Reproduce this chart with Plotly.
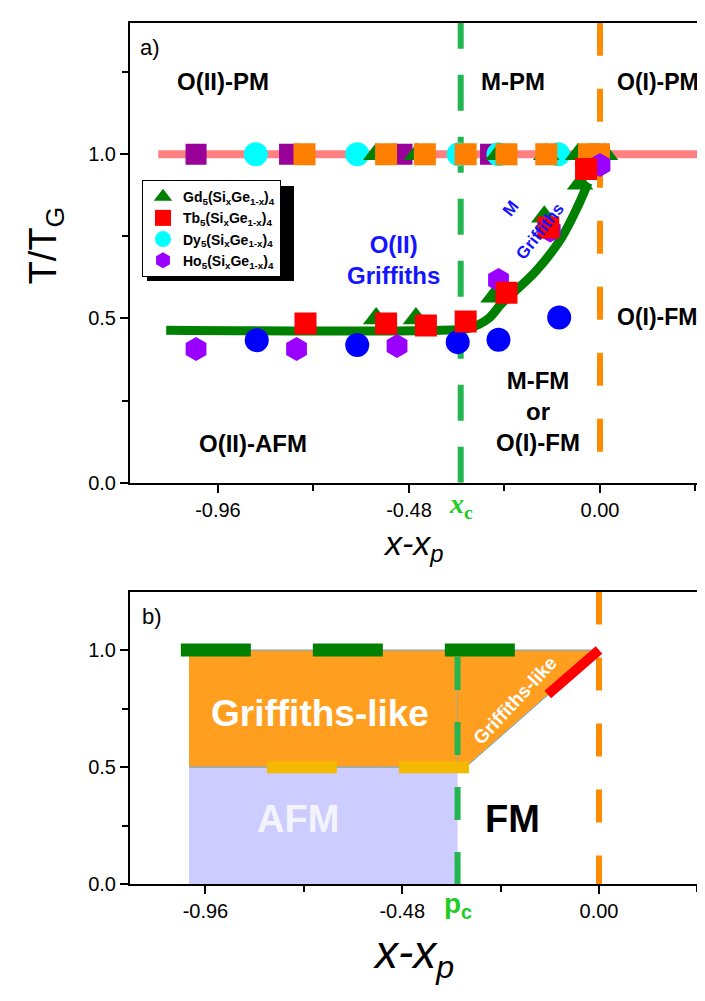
import plotly.graph_objects as go

# ---------------- panel a data ----------------
pm_line_x = [-1.11, 0.30]
pm_line_y = [1.0, 1.0]

curve_x = [-1.09, -0.40, -0.33, -0.28, -0.2475, -0.1625, -0.0975, -0.055, -0.03]
curve_y = [0.464, 0.464, 0.47, 0.50, 0.545, 0.642, 0.744, 0.843, 0.913]

gd_x = [-0.5625, -0.46, -0.255, -0.135, -0.055, 0.0125, -0.5625, -0.4625, -0.2675, -0.14, -0.05]
gd_y = [1.0, 1.0, 1.0, 1.0, 1.0, 1.0, 0.50, 0.50, 0.566, 0.81, 0.91]
tb_x = [-0.74, -0.5375, -0.4375, -0.3375, -0.235, -0.13, -0.035]
tb_y = [0.485, 0.485, 0.479, 0.491, 0.578, 0.777, 0.955]
dy_x = [-0.865, -0.61, -0.355, -0.255, -0.105]
dy_y = [1.0, 1.0, 1.0, 1.0, 1.0]
ho_x = [-1.015, -0.7625, -0.51, -0.255, -0.125, 0.0]
ho_y = [0.407, 0.407, 0.416, 0.617, 0.768, 0.967]
blue_x = [-0.8625, -0.61, -0.3575, -0.255, -0.1025]
blue_y = [0.434, 0.419, 0.428, 0.435, 0.503]
purple_sq_x = [-1.015, -0.78, -0.4975, -0.275]
purple_sq_y = [1.0, 1.0, 1.0, 1.0]
orange_sq_x = [-0.7425, -0.5375, -0.44, -0.3375, -0.235, -0.135, -0.0275, -0.0025]
orange_sq_y = [1.0, 1.0, 1.0, 1.0, 1.0, 1.0, 1.0, 1.0]

x_c = -0.35
x_p0 = 0.0

# ---------------- panel b data ----------------
p_c = -0.345
afm_x = [-1.0, p_c, p_c, -1.0]
afm_y = [0.0, 0.0, 0.5, 0.5]
grif_x = [-1.0, p_c, p_c, -1.0]
grif_y = [0.5, 0.5, 1.0, 1.0]
grif_tri_x = [p_c, -0.325, 0.0, p_c]
grif_tri_y = [0.5, 0.5, 1.0, 1.0]
green_dash_x = [-1.02, -0.20]
green_dash_y = [1.0, 1.0]
yellow_dash_x = [-0.81, -0.30]
yellow_dash_y = [0.5, 0.5]
red_x = [-0.125, 0.0]
red_y = [0.81, 1.0]

# ticks
x_tickvals = [-0.96, -0.48, 0.0]
x_ticktext = ["-0.96", "-0.48", "0.00"]
x_minor = [-0.72, -0.24, 0.24]
ya_tickvals = [0.0, 0.5, 1.0]
ya_ticktext = ["0.0", "0.5", "1.0"]
ya_minor = [0.25, 0.75, 1.25]
yb_minor = [0.25, 0.75]

FONT = "Liberation Sans, Arial, sans-serif"
W, H = 705, 1001

fig = go.Figure()

# ---- panel a ----
fig.add_trace(go.Scatter(x=pm_line_x, y=pm_line_y, mode="lines",
                         line=dict(color="#FF8080", width=8), showlegend=False,
                         xaxis="x", yaxis="y"))
fig.add_trace(go.Scatter(x=[x_c, x_c], y=[0, 1.4], mode="lines",
                         line=dict(color="#22B550", width=6, dash="36px,26px"),
                         showlegend=False, xaxis="x", yaxis="y"))
fig.add_trace(go.Scatter(x=[x_p0, x_p0], y=[1.4, 0], mode="lines",
                         line=dict(color="#FF8C00", width=6, dash="33px,33px"),
                         showlegend=False, xaxis="x", yaxis="y"))
fig.add_trace(go.Scatter(x=curve_x, y=curve_y, mode="lines",
                         line=dict(color="#008000", width=9, shape="spline"),
                         showlegend=False, xaxis="x", yaxis="y"))
fig.add_trace(go.Scatter(x=purple_sq_x, y=purple_sq_y, mode="markers",
                         marker=dict(symbol="square", size=21, color="#990099"),
                         showlegend=False, xaxis="x", yaxis="y"))
fig.add_trace(go.Scatter(x=dy_x, y=dy_y, mode="markers", name="Dy<sub>5</sub>(Si<sub>x</sub>Ge<sub>1-x</sub>)<sub>4</sub>",
                         marker=dict(symbol="circle", size=24, color="#00FFFF"),
                         legendrank=3, xaxis="x", yaxis="y"))
fig.add_trace(go.Scatter(x=gd_x, y=gd_y, mode="markers", name="Gd<sub>5</sub>(Si<sub>x</sub>Ge<sub>1-x</sub>)<sub>4</sub>",
                         marker=dict(symbol="triangle-up", size=23, color="#008000"),
                         legendrank=1, xaxis="x", yaxis="y"))
fig.add_trace(go.Scatter(x=orange_sq_x, y=orange_sq_y, mode="markers",
                         marker=dict(symbol="square", size=22, color="#FF8000"),
                         showlegend=False, xaxis="x", yaxis="y"))
fig.add_trace(go.Scatter(x=blue_x, y=blue_y, mode="markers",
                         marker=dict(symbol="circle", size=24, color="#0000FF"),
                         showlegend=False, xaxis="x", yaxis="y"))
fig.add_trace(go.Scatter(x=ho_x, y=ho_y, mode="markers", name="Ho<sub>5</sub>(Si<sub>x</sub>Ge<sub>1-x</sub>)<sub>4</sub>",
                         marker=dict(symbol="hexagon", size=24, color="#9900FF"),
                         legendrank=4, xaxis="x", yaxis="y"))
fig.add_trace(go.Scatter(x=tb_x, y=tb_y, mode="markers", name="Tb<sub>5</sub>(Si<sub>x</sub>Ge<sub>1-x</sub>)<sub>4</sub>",
                         marker=dict(symbol="square", size=22, color="#FF0000"),
                         legendrank=2, xaxis="x", yaxis="y"))

# ---- panel b ----
fig.add_trace(go.Scatter(x=afm_x, y=afm_y, mode="lines", fill="toself", fillcolor="#CCCCFF",
                         line=dict(width=0, color="#CCCCFF"), showlegend=False,
                         xaxis="x2", yaxis="y2"))
fig.add_trace(go.Scatter(x=grif_x, y=grif_y, mode="lines", fill="toself", fillcolor="#FF9E1F",
                         line=dict(width=1, color="#5DA9D6"), showlegend=False,
                         xaxis="x2", yaxis="y2"))
fig.add_trace(go.Scatter(x=grif_tri_x, y=grif_tri_y, mode="lines", fill="toself", fillcolor="#FF9E1F",
                         line=dict(width=1, color="#5DA9D6"), showlegend=False,
                         xaxis="x2", yaxis="y2"))
fig.add_trace(go.Scatter(x=[p_c, p_c], y=[0.97, 0], mode="lines",
                         line=dict(color="#22B550", width=6, dash="33px,32px"),
                         showlegend=False, xaxis="x2", yaxis="y2"))
fig.add_trace(go.Scatter(x=[x_p0, x_p0], y=[1.25, 0], mode="lines",
                         line=dict(color="#FF8C00", width=6, dash="33px,33px"),
                         showlegend=False, xaxis="x2", yaxis="y2"))
fig.add_trace(go.Scatter(x=green_dash_x, y=green_dash_y, mode="lines",
                         line=dict(color="#008000", width=13, dash="70px,62px"),
                         showlegend=False, xaxis="x2", yaxis="y2"))
fig.add_trace(go.Scatter(x=yellow_dash_x, y=yellow_dash_y, mode="lines",
                         line=dict(color="#F5B800", width=12, dash="70px,62px"),
                         showlegend=False, xaxis="x2", yaxis="y2"))
fig.add_trace(go.Scatter(x=red_x, y=red_y, mode="lines",
                         line=dict(color="#FF0000", width=10),
                         showlegend=False, xaxis="x2", yaxis="y2"))

axis_common = dict(showline=True, linecolor="black", linewidth=2, ticks="outside",
                   ticklen=8, tickwidth=2, tickcolor="black", showgrid=False, zeroline=False,
                   tickfont=dict(family=FONT, size=20, color="black"))

fig.update_layout(
    width=W, height=H, margin=dict(l=0, r=0, t=0, b=0),
    paper_bgcolor="white", plot_bgcolor="white",
    font=dict(family=FONT, color="black"),
    xaxis=dict(domain=[122 / W, 1.0], range=[-1.181, 0.284], anchor="y", mirror=True,
               tickmode="array", tickvals=x_tickvals, ticktext=x_ticktext,
               minor=dict(tickmode="array", tickvals=x_minor, ticks="outside", ticklen=6,
                          tickwidth=2, tickcolor="black"), **axis_common),
    yaxis=dict(domain=[1 - 480 / H, 1 - 15 / H], range=[0, 1.4], anchor="x",
               tickmode="array", tickvals=ya_tickvals, ticktext=ya_ticktext,
               minor=dict(tickmode="array", tickvals=ya_minor, ticks="outside", ticklen=6,
                          tickwidth=2, tickcolor="black"), **axis_common),
    xaxis2=dict(domain=[122 / W, 1.0], range=[-1.144, 0.278], anchor="y2", mirror=True,
                tickmode="array", tickvals=x_tickvals, ticktext=x_ticktext,
                minor=dict(tickmode="array", tickvals=x_minor, ticks="outside", ticklen=6,
                           tickwidth=2, tickcolor="black"), **axis_common),
    yaxis2=dict(domain=[1 - 886 / H, 1 - 590 / H], range=[0, 1.25], anchor="x2",
                tickmode="array", tickvals=ya_tickvals, ticktext=ya_ticktext,
                minor=dict(tickmode="array", tickvals=yb_minor, ticks="outside", ticklen=6,
                           tickwidth=2, tickcolor="black"), **axis_common),
    legend=dict(x=134 / W, y=1 - 174 / H, xanchor="left", yanchor="top",
                bgcolor="white", bordercolor="black", borderwidth=1,
                font=dict(family=FONT, size=14, color="black", weight="bold"),
                itemsizing="trace", tracegroupgap=0),
    shapes=[dict(type="rect", xref="paper", yref="paper",
                 x0=139 / W, x1=286 / W, y0=1 - 276 / H, y1=1 - 180 / H,
                 fillcolor="black", line=dict(width=0), layer="above")],
)

def ann(text, x, y, xref="x", yref="y", size=20, color="black", bold=True, angle=0,
        xanchor="center", yanchor="middle", family=FONT):
    fig.add_annotation(text=text, x=x, y=y, xref=xref, yref=yref, showarrow=False,
                       font=dict(family=family, size=size, color=color,
                                 weight="bold" if bold else "normal"),
                       textangle=angle, xanchor=xanchor, yanchor=yanchor)

# panel a annotations
ann("a)", -1.16, 1.325, size=22, bold=False, xanchor="left")
ann("O(II)-PM", -0.947, 1.22, size=24)
ann("M-PM", -0.219, 1.22, size=24)
ann("O(I)-PM", 0.145, 1.22, size=23)
ann("O(II)<br>Griffiths", -0.52, 0.678, size=24, color="#1414FF")
ann("M", -0.224, 0.834, size=17, color="#1414FF", angle=-52)
ann("Griffiths", -0.151, 0.765, size=17, color="#1414FF", angle=-52)
ann("O(I)-FM", 0.143, 0.506, size=23)
ann("M-FM<br>or<br>O(I)-FM", -0.156, 0.217, size=24)
ann("O(II)-AFM", -0.872, 0.12, size=24)
ann("<i>x</i><sub>c</sub>", x_c, 1 - 503 / H, yref="paper", size=28, color="#22CC22",
    family="Liberation Serif, serif")

# panel b annotations
ann("b)", -1.12, 1.143, xref="x2", yref="y2", size=22, bold=False, xanchor="left")
ann("Griffiths-like", -0.68, 0.73, xref="x2", yref="y2", size=37, color="white")
ann("Griffiths-like", -0.205, 0.785, xref="x2", yref="y2", size=19, color="white", angle=-47)
ann("AFM", -0.734, 0.278, xref="x2", yref="y2", size=38, color="#F4F4FF")
ann("FM", -0.21, 0.278, xref="x2", yref="y2", size=38, color="black")
ann("p<sub>c</sub>", p_c, 1 - 907 / H, xref="x2", yref="paper", size=28, color="#22CC22")

# axis titles
ann("<i>x-x<sub>p</sub></i>", 405 / W, 1 - 543 / H, xref="paper", yref="paper", size=34, bold=False)
ann("<i>x-x<sub>p</sub></i>", 405 / W, 1 - 958 / H, xref="paper", yref="paper", size=46, bold=False)
ann("T/T<sub>G</sub>", 38 / W, 1 - 240 / H, xref="paper", yref="paper", size=38, bold=False, angle=-90)

fig.write_html("out.html")
